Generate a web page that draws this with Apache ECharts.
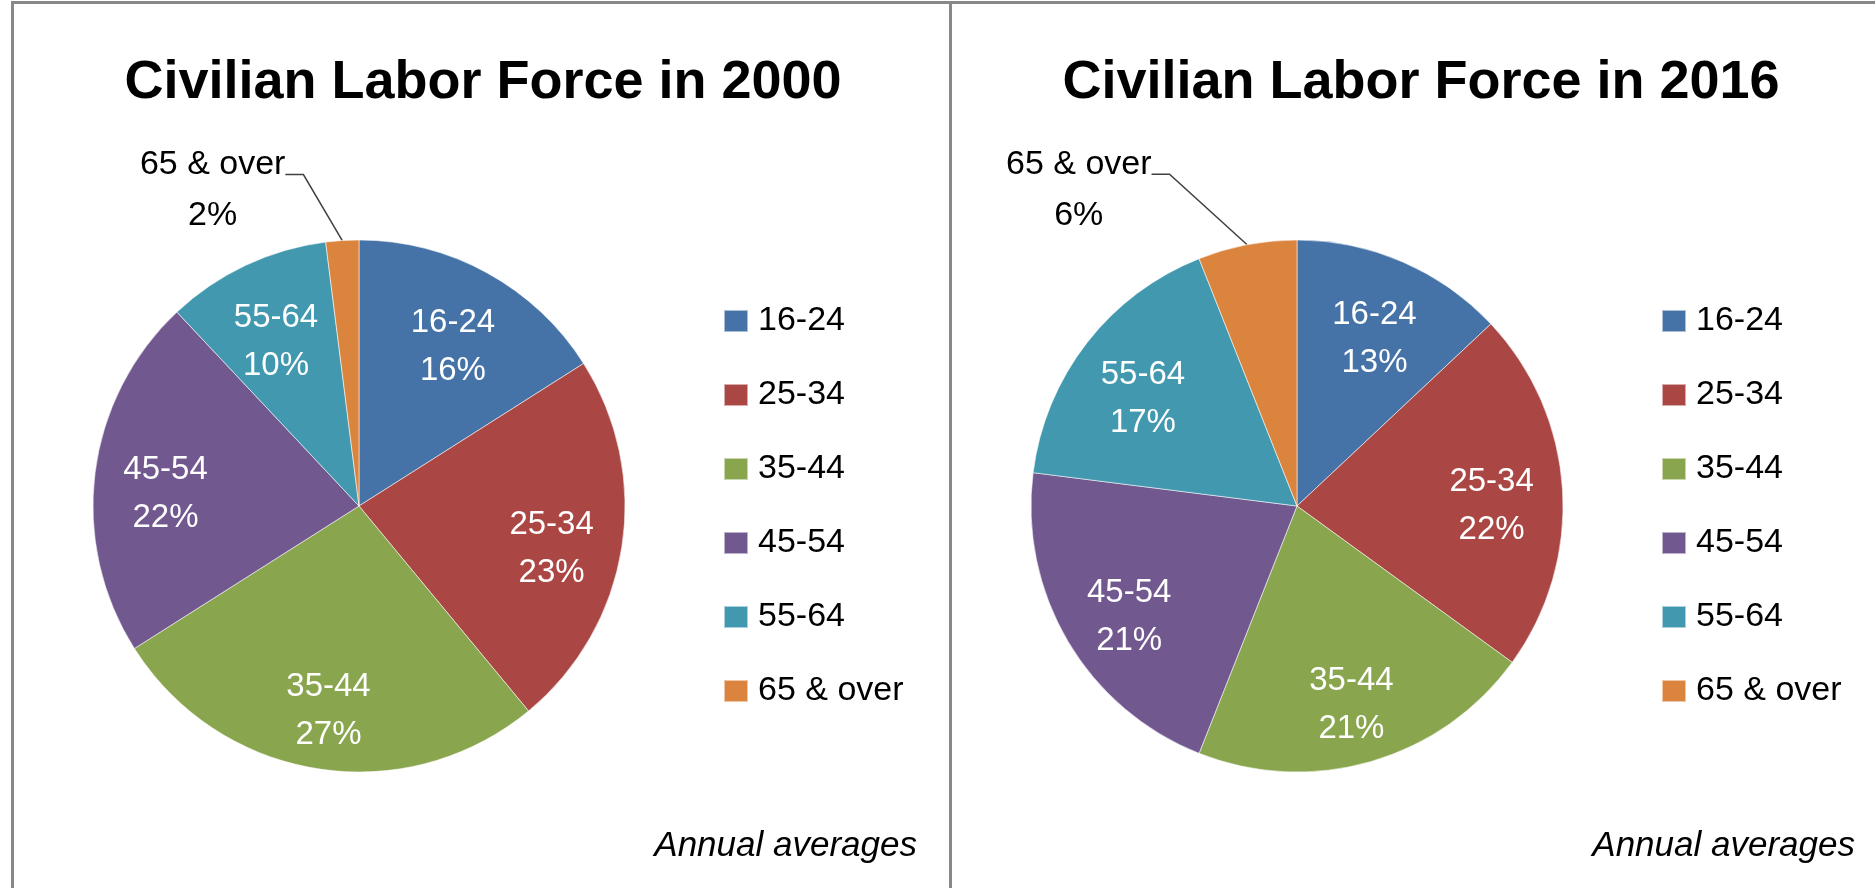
<!DOCTYPE html>
<html><head><meta charset="utf-8">
<script src="https://cdn.jsdelivr.net/npm/echarts@6/dist/echarts.min.js"></script>
<style>html,body{margin:0;padding:0;background:#fff}#c{width:1875px;height:888px}</style>
</head><body><div id="c"></div>
<script>
// ---- data ----
const categories = ['16-24', '25-34', '35-44', '45-54', '55-64', '65 & over'];
const values2000 = [16, 23, 27, 22, 10, 2];
const values2016 = [13, 22, 21, 21, 17, 6];
const titles = ['Civilian Labor Force in 2000', 'Civilian Labor Force in 2016'];
const noteText = 'Annual averages';
const colors = ['#4572A7', '#AA4643', '#89A54E', '#71588F', '#4198AF', '#DB843D'];

// ---- layout ----
const FONT = '"Liberation Sans", Arial, sans-serif';
const R = 266, CY = 506;
const panels = [
  { x0: 12, values: values2000, title: titles[0], sx: -28, sy: -36 },
  { x0: 950, values: values2016, title: titles[1], sx: -63, sy: -41 }
];

const series = [];
const legends = [];
const graphics = [];

panels.forEach((p, pi) => {
  const cx = p.x0 + 347;
  const last = categories.length - 1;
  const mainData = categories.map((name, i) => ({
    name, value: p.values[i],
    label: i === last ? {
      show: true, position: 'outside',
      formatter: '{b}\n{c}%', color: '#000', fontFamily: FONT, fontSize: 34, lineHeight: 51,
      align: 'center', padding: [32, 0, 0, 0], distanceToLabelLine: 9
    } : { show: false },
    labelLine: i === last ? { show: true, length: 30, length2: 18,
      lineStyle: { color: '#404040', width: 1.5 } } : { show: false }
  }));
  series.push({
    type: 'pie', center: [cx, CY], radius: [0, R], startAngle: 90, clockwise: true,
    silent: true, avoidLabelOverlap: false, color: colors,
    itemStyle: { borderColor: 'rgba(255,255,255,0.55)', borderWidth: 1 },
    emphasis: { disabled: true },
    data: mainData,
    labelLayout: (params) => {
      if (params.dataIndex !== last) return {};
      const r = params.labelRect;
      return { x: r.x + r.width / 2 + p.sx, y: r.y + p.sy, align: 'center', verticalAlign: 'top' };
    }
  });
  // label-only ring so inside labels sit at ~0.72 R
  series.push({
    type: 'pie', center: [cx, CY], radius: [118, R], startAngle: 90, clockwise: true,
    silent: true, avoidLabelOverlap: false,
    itemStyle: { color: 'rgba(0,0,0,0)' }, emphasis: { disabled: true },
    label: { show: true, position: 'inside', formatter: '{b}\n{c}%', color: '#fff',
      fontFamily: FONT, fontSize: 33, lineHeight: 48 },
    labelLine: { show: false },
    labelLayout: () => ({ dy: 12 }),
    data: categories.map((name, i) => ({ name, value: p.values[i],
      label: { show: i !== last } }))
  });
  legends.push({
    orient: 'vertical', left: p.x0 + 711, top: 304, padding: 0, itemWidth: 24, itemHeight: 22, itemGap: 40,
    icon: 'rect', selectedMode: false, data: categories,
    textStyle: { fontFamily: FONT, fontSize: 34, color: '#000', lineHeight: 34, padding: [0, 0, 0, 5] }
  });
  graphics.push({ type: 'text', x: p.x0 + 471, y: 56, silent: true,
    style: { text: p.title, fill: '#000', fontFamily: FONT, fontWeight: 'bold', fontSize: 54,
      align: 'center', verticalAlign: 'top' } });
  graphics.push({ type: 'text', x: p.x0 + 905, y: 829, silent: true,
    style: { text: noteText, fill: '#000', fontFamily: FONT, fontStyle: 'italic', fontSize: 35,
      align: 'right', verticalAlign: 'top' } });
});

// frame lines
graphics.push({ type: 'line', silent: true, shape: { x1: 12.5, y1: 1, x2: 12.5, y2: 888 }, style: { stroke: '#888', lineWidth: 3 } });
graphics.push({ type: 'line', silent: true, shape: { x1: 11, y1: 2.5, x2: 1875, y2: 2.5 }, style: { stroke: '#888', lineWidth: 3 } });
graphics.push({ type: 'line', silent: true, shape: { x1: 950.5, y1: 1, x2: 950.5, y2: 888 }, style: { stroke: '#888', lineWidth: 3 } });

const chart = echarts.init(document.getElementById('c'), null, { renderer: 'canvas' });
chart.setOption({
  animation: false,
  backgroundColor: '#fff',
  color: colors,
  legend: legends,
  series: series,
  graphic: graphics
});
</script></body></html>
